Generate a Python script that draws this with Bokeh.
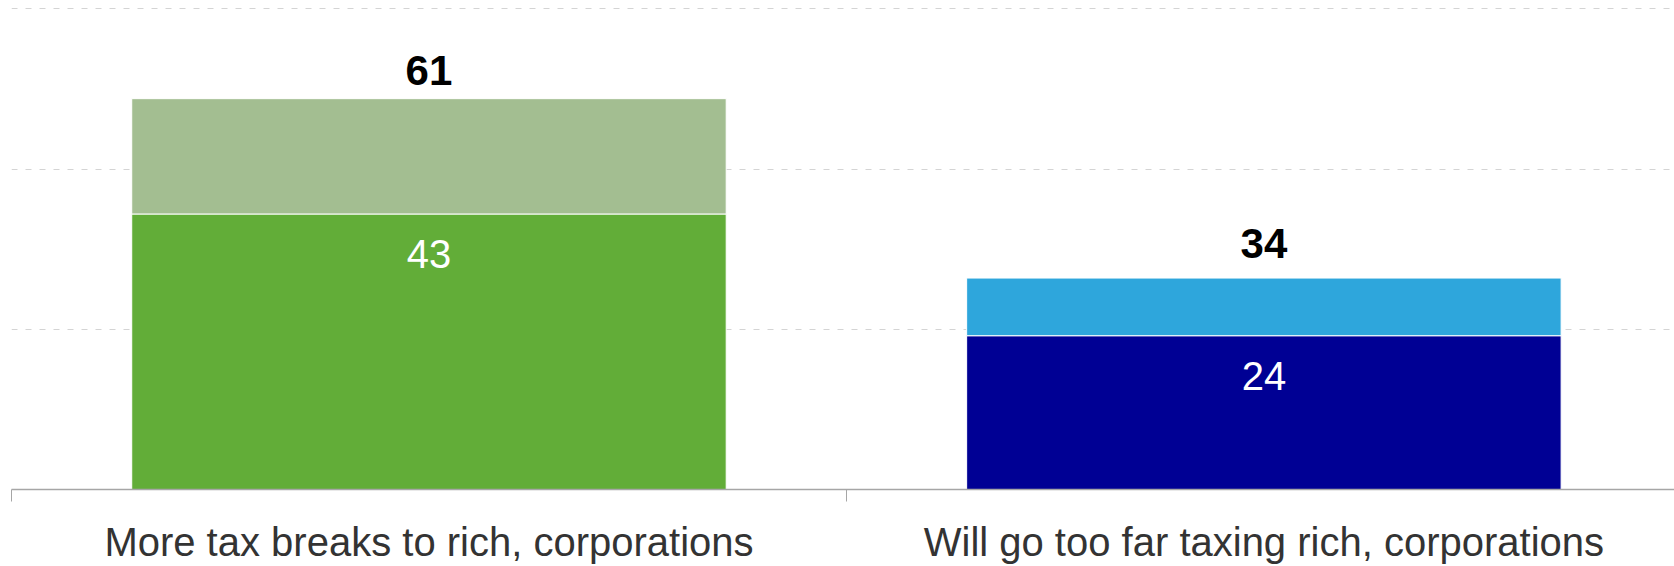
from bokeh.plotting import figure
from bokeh.models import ColumnDataSource, FixedTicker, Range1d
from bokeh.core.properties import value
from bokeh.embed import file_html
from bokeh.resources import INLINE

categories = ["More tax breaks to rich, corporations",
              "Will go too far taxing rich, corporations"]
base_values = [43, 24]
top_values = [18, 9]
totals = [61, 34]
base_colors = ["#62ad38", "#000094"]
top_colors = ["#a3be91", "#2ea6dc"]
grid_values = [25, 50, 75]

centers = [i + 0.5 for i in range(len(categories))]
stack_tops = [b + t for b, t in zip(base_values, top_values)]

src = ColumnDataSource(dict(
    x=centers, base=base_values, top=stack_tops, total=totals,
    base_label=[str(v) for v in base_values],
    total_label=[str(v) for v in totals],
    base_color=base_colors, top_color=top_colors,
))

FONT = value("Liberation Sans")

p = figure(width=1674, height=566, output_backend="svg", toolbar_location=None,
           x_range=Range1d(0, 1.9918), y_range=Range1d(0, 76.32),
           min_border_left=11, min_border_right=0, min_border_top=0, min_border_bottom=0)
p.outline_line_color = None
p.background_fill_color = "white"
p.border_fill_color = "white"

p.yaxis.visible = False
p.xgrid.visible = False
p.ygrid.ticker = FixedTicker(ticks=grid_values)
p.ygrid.grid_line_color = "#d4d4d4"
p.ygrid.grid_line_width = 1
p.ygrid.grid_line_dash = "6 8"

ax = p.xaxis[0]
ax.ticker = FixedTicker(ticks=centers, minor_ticks=[0, 1, 2])
ax.major_label_overrides = {c: cat for c, cat in zip(centers, categories)}
ax.major_tick_out = 0
ax.major_tick_in = 0
ax.minor_tick_out = 12
ax.minor_tick_in = 0
ax.minor_tick_line_color = "#a6a6a6"
ax.minor_tick_line_width = 1
ax.axis_line_color = "#a6a6a6"
ax.axis_line_width = 1.5
ax.major_label_text_font = "Liberation Sans"
ax.major_label_text_font_size = "40px"
ax.major_label_text_color = "#333333"
ax.major_label_standoff = 18

p.vbar(x="x", bottom=0, top="base", width=0.712, fill_color="base_color",
       line_color="white", line_width=1, source=src)
p.vbar(x="x", bottom="base", top="top", width=0.712, fill_color="top_color",
       line_color="white", line_width=1, source=src)

p.text(x="x", y="total", text="total_label", source=src, text_font=FONT,
       text_font_size="42px", text_font_style="bold", text_color="black",
       text_align="center", text_baseline="alphabetic", y_offset=-28)
p.text(x="x", y="base", text="base_label", source=src, text_font=FONT,
       text_font_size="40px", text_color="white",
       text_align="center", text_baseline="alphabetic", y_offset=40)

open("out.html", "w").write(file_html(p, INLINE))
